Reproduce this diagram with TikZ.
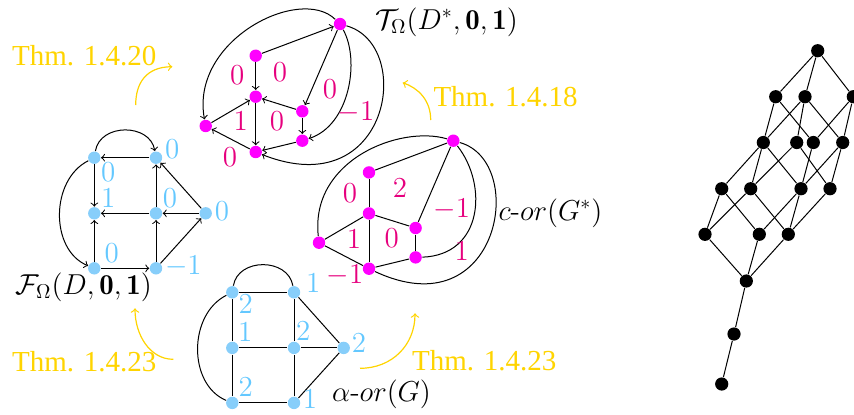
\documentclass[tikz,border=0pt]{standalone}
\usepackage{fontspec}
\newfontfamily\thmfont{Liberation Serif}
\definecolor{mag}{RGB}{255,0,255}
\definecolor{magl}{RGB}{230,0,126}
\definecolor{sky}{RGB}{135,206,250}
\definecolor{skyl}{RGB}{100,200,255}
\definecolor{gold}{RGB}{255,212,0}
\begin{document}
\begin{tikzpicture}[x=0.5pt,y=-0.5pt, line width=0.5pt,
  mdot/.style={circle,fill=mag,inner sep=0pt,minimum size=6.2pt},
  bdot/.style={circle,fill=sky,inner sep=0pt,minimum size=6.2pt},
  kdot/.style={circle,fill=black,inner sep=0pt,minimum size=6.6pt},
  mlab/.style={text=magl,font=\fontsize{14.5}{17}\selectfont,inner sep=0pt},
  blab/.style={text=skyl,font=\fontsize{14.5}{17}\selectfont,inner sep=0pt},
  thm/.style={text=gold,font=\thmfont\fontsize{14.5}{17}\selectfont,inner sep=0pt,anchor=base west},
  mathlab/.style={font=\fontsize{14.4}{17}\selectfont,inner sep=0pt,anchor=base west},
  arr/.style={->},
  garr/.style={->,draw=gold,line width=0.6pt},
]
\useasboundingbox (0,0) rectangle (854,414);

% ---------- top magenta graph (directed) ----------
\node[mdot] (P1) at (340,24) {};
\node[mdot] (P2) at (255.7,55.7) {};
\node[mdot] (P3) at (255.7,96.7) {};
\node[mdot] (P4) at (205.7,126) {};
\node[mdot] (P5) at (255.7,152) {};
\node[mdot] (P6) at (302.3,111.3) {};
\node[mdot] (P7) at (302.3,140.7) {};
\draw[arr] (P2) -- (P1);
\draw[arr] (P1) .. controls (300,-15) and (190,40) .. (P4);
\draw[arr] (P2) -- (P3);
\draw[arr] (P4) -- (P3);
\draw[arr] (P6) -- (P3);
\draw[arr] (P3) -- (P5);
\draw[arr] (P5) -- (P4);
\draw[arr] (P1) -- (P6);
\draw[arr] (P6) -- (P7);
\draw[arr] (P1) .. controls (360,60) and (350,125) .. (P7);
\draw[arr] (P7) -- (P5);
\draw[arr] (P1) .. controls (415,45) and (390,205) .. (P5);
\node[mlab] (pl1) at (237.3,75) {0};
\node[mlab] (pl2) at (280,71.7) {0};
\node[mlab] (pl3) at (330,89) {0};
\node[mlab] (pl4) at (240.7,120.7) {1};
\node[mlab] (pl5) at (277,121) {0};
\node[mlab] (pl6) at (356,112.3) {$-1$};
\node[mlab] (pl7) at (230,156.7) {0};
\node[mathlab] (lT) at (375,29) {$\mathcal{T}_\Omega(D^*,\mathbf{0},\mathbf{1})$};

% ---------- right magenta graph (undirected) ----------
\node[mdot] (Q1) at (453.3,140.7) {};
\node[mdot] (Q2) at (369,172.4) {};
\node[mdot] (Q3) at (369,213.4) {};
\node[mdot] (Q4) at (319,242.7) {};
\node[mdot] (Q5) at (369,268.7) {};
\node[mdot] (Q6) at (415.6,228) {};
\node[mdot] (Q7) at (415.6,257.4) {};
\draw (Q2) -- (Q1);
\draw (Q1) .. controls (400,125) and (310,160) .. (Q4);
\draw (Q2) -- (Q3);
\draw (Q4) -- (Q3);
\draw (Q6) -- (Q3);
\draw (Q3) -- (Q5);
\draw (Q5) -- (Q4);
\draw (Q1) -- (Q6);
\draw (Q6) -- (Q7);
\draw (Q1) .. controls (488,185) and (483,255) .. (Q7);
\draw (Q7) -- (Q5);
\draw (Q1) .. controls (528.3,161.7) and (500,330) .. (Q5);
\node[mlab] (ql1) at (350,193.3) {0};
\node[mlab] (ql2) at (400,187.7) {2};
\node[mlab] (ql3) at (451.7,209.3) {$-1$};
\node[mlab] (ql4) at (354,239) {1};
\node[mlab] (ql5) at (391.7,238.3) {0};
\node[mlab] (ql6) at (461.7,250.7) {1};
\node[mlab] (ql7) at (345,275) {$-1$};
\node[mathlab] (lc) at (498,220) {$c$-$or(G^*)$};

% ---------- left blue graph (directed) ----------
\node[bdot] (B1) at (94.3,157.7) {};
\node[bdot] (B2) at (156,157.7) {};
\node[bdot] (B3) at (94.3,213.3) {};
\node[bdot] (B4) at (156,213.3) {};
\node[bdot] (B5) at (205.7,213.3) {};
\node[bdot] (B6) at (94.3,268.3) {};
\node[bdot] (B7) at (156,268.3) {};
\draw[arr] (B1) .. controls (100,123) and (150,123) .. (B2);
\draw[arr] (B2) -- (B1);
\draw[arr] (B1) -- (B3);
\draw[arr] (B1) .. controls (50,180) and (50,250) .. (B6);
\draw[arr] (B4) -- (B3);
\draw[arr] (B5) -- (B4);
\draw[arr] (B4) -- (B2);
\draw[arr] (B5) -- (B2);
\draw[arr] (B6) -- (B3);
\draw[arr] (B7) -- (B4);
\draw[arr] (B6) -- (B7);
\draw[arr] (B7) -- (B5);
\node[blab] (bl1) at (172.3,149) {0};
\node[blab] (bl2) at (108.3,172.3) {0};
\node[blab] (bl3) at (108.3,198.3) {1};
\node[blab] (bl4) at (170,197.7) {0};
\node[blab] (bl5) at (222,210.7) {0};
\node[blab] (bl6) at (111.7,253.3) {0};
\node[blab] (bl7) at (183.3,266) {$-1$};
\node[mathlab] (lF) at (15,294) {$\mathcal{F}_\Omega(D,\mathbf{0},\mathbf{1})$};

% ---------- bottom blue graph (undirected) ----------
\node[bdot] (G1) at (232.3,292.3) {};
\node[bdot] (G2) at (294,292.3) {};
\node[bdot] (G3) at (232.3,347.9) {};
\node[bdot] (G4) at (294,347.9) {};
\node[bdot] (G5) at (343.7,347.9) {};
\node[bdot] (G6) at (232.3,402.9) {};
\node[bdot] (G7) at (294,402.9) {};
\draw (G1) .. controls (238,257.6) and (288,257.6) .. (G2);
\draw (G1) -- (G2);
\draw (G1) -- (G3);
\draw (G1) .. controls (188,314.6) and (188,384.6) .. (G6);
\draw (G3) -- (G4);
\draw (G4) -- (G5);
\draw (G4) -- (G2);
\draw (G5) -- (G2);
\draw (G3) -- (G6);
\draw (G7) -- (G4);
\draw (G6) -- (G7);
\draw (G7) -- (G5);
\node[blab] (gl1) at (313.3,283.3) {1};
\node[blab] (gl2) at (245.7,304.3) {2};
\node[blab] (gl3) at (245.3,331.5) {1};
\node[blab] (gl4) at (303.3,330.7) {2};
\node[blab] (gl5) at (359,342.7) {2};
\node[blab] (gl6) at (245.7,387.3) {2};
\node[blab] (gl7) at (310,399.3) {1};
\node[mathlab] (la) at (331.7,401.7) {$\alpha$-$or(G)$};

% ---------- theorem labels and arrows ----------
\node[thm] (t1) at (11.7,65.7) {Thm. 1.4.20};
\node[thm] (t2) at (433,106) {Thm. 1.4.18};
\node[thm] (t3) at (11.7,371) {Thm. 1.4.23};
\node[thm] (t4) at (411.7,370) {Thm. 1.4.23};
\coordinate (a1s) at (135.7,105);
\coordinate (a1e) at (172.3,66.7);
\coordinate (a2s) at (430.7,120);
\coordinate (a2e) at (402.7,82.7);
\coordinate (a3s) at (173.3,359.3);
\coordinate (a3e) at (135,308.3);
\coordinate (a4s) at (360,368.3);
\coordinate (a4e) at (415,313.3);
\draw[garr] (a1s) .. controls (135.7,82) and (147,67) .. (a1e);
\draw[garr] (a2s) .. controls (430.7,100) and (418,88) .. (a2e);
\draw[garr] (a3s) .. controls (150,359.3) and (135,335) .. (a3e);
\draw[garr] (a4s) .. controls (392,368.3) and (415,345) .. (a4e);

% ---------- lattice ----------
\node[kdot] (T) at (817.7,50.7) {};
\node[kdot] (a) at (775.7,96.7) {};
\node[kdot] (b) at (805,96.7) {};
\node[kdot] (c) at (853.3,96.7) {};
\node[kdot] (d) at (763.3,142.5) {};
\node[kdot] (e) at (796.7,142.5) {};
\node[kdot] (f) at (813.3,142.5) {};
\node[kdot] (g) at (842.7,142.5) {};
\node[kdot] (h) at (721.7,188.7) {};
\node[kdot] (i) at (750.7,188.7) {};
\node[kdot] (j) at (801,188.7) {};
\node[kdot] (k) at (830,188.7) {};
\node[kdot] (l) at (705,234.3) {};
\node[kdot] (m) at (759.3,234.3) {};
\node[kdot] (n) at (788.3,234.3) {};
\node[kdot] (o) at (746.3,281) {};
\node[kdot] (p) at (734,334) {};
\node[kdot] (q) at (721.7,384) {};
\foreach \u/\v in {T/a,T/b,T/c,a/d,a/f,b/d,b/e,b/g,c/f,c/g,d/h,d/i,d/j,e/i,e/k,f/j,g/j,g/k,h/l,h/m,i/l,i/n,j/m,j/n,k/n,l/o,m/o,n/o,o/p,p/q}
  \draw (\u) -- (\v);
\end{tikzpicture}
\end{document}
